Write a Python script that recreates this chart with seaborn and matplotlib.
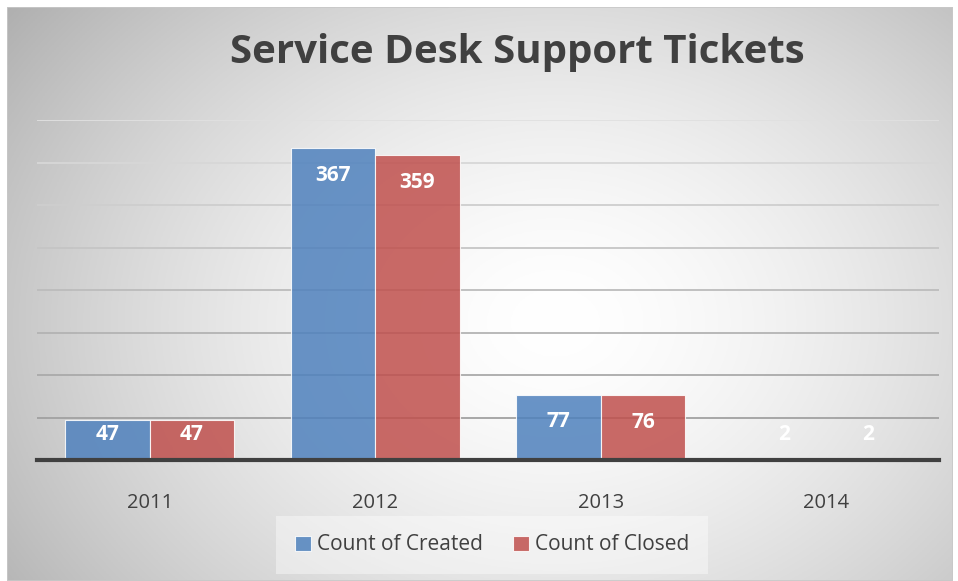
import numpy as np
import pandas as pd
import matplotlib
matplotlib.use("Agg")
import matplotlib.pyplot as plt
import seaborn as sns
from matplotlib.patches import Patch, Rectangle

years = ["2011", "2012", "2013", "2014"]
created = [47, 367, 77, 2]
closed = [47, 359, 76, 2]
series = ["Count of Created", "Count of Closed"]
title = "Service Desk Support Tickets"

df = pd.DataFrame({
    "year": years * 2,
    "count": created + closed,
    "series": [series[0]] * len(years) + [series[1]] * len(years),
})

sns.set_theme(style="white")
plt.rcParams["font.family"] = ["Open Sans", "DejaVu Sans"]

W, H = 958, 581
fig = plt.figure(figsize=(W / 100, H / 100), dpi=100)
fig.patch.set_facecolor("white")

# background with radial gradient
bg = fig.add_axes([7 / W, 0, (953 - 7) / W, (581 - 7) / H])
nx, ny = 400, 240
xx, yy = np.meshgrid(np.linspace(0, 1, nx), np.linspace(0, 1, ny))
r = np.sqrt(((xx - 0.58) / 0.75) ** 2 + ((yy - 0.55) / 0.95) ** 2)
val = np.clip(1.0 - 0.33 * r ** 1.6, 0, 1)
bg.imshow(np.dstack([val, val, val]), aspect="auto", extent=[0, 1, 0, 1], origin="upper")
bg.set_axis_off()
bg.add_patch(Rectangle((0, 0), 1, 1, transform=bg.transAxes, fill=False,
                       edgecolor="#c8c8c8", lw=1.2))

ax = fig.add_axes([37 / W, (581 - 460) / H, (939 - 37) / W, (460 - 120) / H])
ax.set_facecolor("none")

palette = {series[0]: "#4F81BD", series[1]: "#C0504D"}
sns.barplot(data=df, x="year", y="count", hue="series", palette=palette,
            width=0.75, ax=ax, alpha=0.85, edgecolor="#ffffff", linewidth=0.8,
            saturation=1, legend=False, zorder=3)

ax.set_ylim(0, 400)
ax.set_xlim(-0.5, len(years) - 0.5)

# gridlines (progressively darker toward the bottom)
ticks = np.arange(50, 401, 50)
for i, t in enumerate(ticks):
    f = (t - 50) / 350
    c = 0.63 + f * (0.88 - 0.63)
    ax.axhline(t, color=(c, c, c), lw=1.3, zorder=1)

for s in ["top", "right", "left"]:
    ax.spines[s].set_visible(False)
ax.spines["bottom"].set_color("#404040")
ax.spines["bottom"].set_linewidth(3)
ax.spines["bottom"].set_zorder(5)
ax.set_yticks([])
ax.set_xlabel("")
ax.set_ylabel("")
ax.tick_params(axis="x", length=0, pad=24, labelsize=14.5, labelcolor="#404040")

# data labels
for j, vals in enumerate([created, closed]):
    for i, v in enumerate(vals):
        xpos = i + (-0.1875 if j == 0 else 0.1875)
        ypos = max(v - 32, 29.5)
        ax.text(xpos, ypos, str(v), ha="center", va="center", color="white",
                fontsize=15, fontweight="bold", zorder=6)

fig.text(517 / W, 1 - 52 / H, title, ha="center", va="center",
         fontsize=29, fontweight="bold", color="#404040")

handles = [Patch(facecolor=palette[s], alpha=0.85, edgecolor="white", lw=0.8) for s in series]
leg = fig.legend(handles, series, loc="center", bbox_to_anchor=(492 / W, 1 - 545 / H),
                 ncol=2, frameon=True, fontsize=15, handlelength=0.75, handleheight=0.75,
                 handletextpad=0.3, columnspacing=1.45, borderpad=0.9)
leg.get_frame().set_facecolor("white")
leg.get_frame().set_alpha(0.4)
leg.get_frame().set_edgecolor("none")
leg.get_frame().set_boxstyle("square", pad=0)
for t in leg.get_texts():
    t.set_color("#404040")

fig.savefig("out.png", dpi=100)
